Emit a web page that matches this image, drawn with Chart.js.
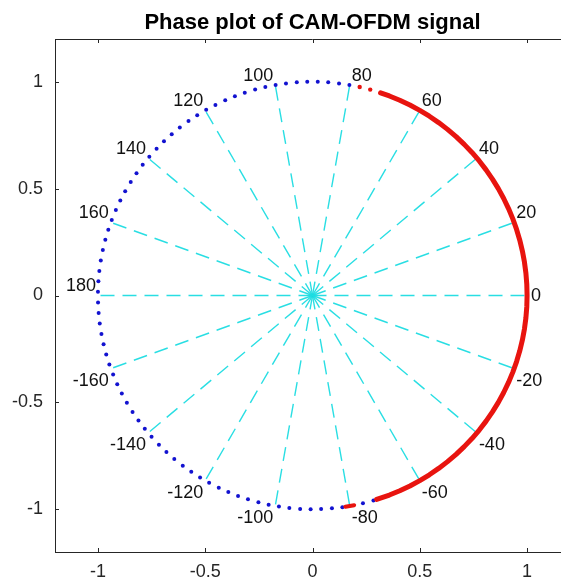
<!DOCTYPE html>
<html>
<head>
<meta charset="utf-8">
<script src="https://cdn.jsdelivr.net/npm/chart.js@4.4.1/dist/chart.umd.min.js"></script>
<style>
  html, body { margin: 0; padding: 0; background: #fff; overflow: hidden; }
  #wrap { width: 600px; height: 586px; }
</style>
</head>
<body>
<div id="wrap"><canvas id="phaseChart" width="600" height="586"></canvas></div>
<script>
// phase samples in degrees
const bluePhase = [80.1, 82.9, 85.8, 88.6, 91.4, 94.2, 97.1, 99.9, 102.7, 105.5,
  108.4, 111.2, 114.0, 116.9, 119.7, 122.5, 125.3, 128.2, 131.0, 133.8,
  136.6, 139.5, 142.3, 145.1, 147.9, 150.8, 153.6, 156.4, 159.3, 162.1,
  164.9, 167.7, 170.6, 173.4, 176.2, 179.0, 181.9, 184.7, 187.5, 190.4,
  193.2, 196.0, 198.8, 201.7, 204.5, 207.3, 210.1, 213.0, 215.8, 218.6,
  221.4, 224.3, 227.1, 229.9, 232.8, 235.6, 238.4, 241.2, 244.1, 246.9,
  249.7, 252.5, 255.4, 258.2, 261.0, 263.8, 266.7, 269.5, 272.3, 275.2,
  278.0, 283.6, 286.5];
const redPhase = [-72.6, -69, -66, -63, -60, -57, -54, -51, -48, -45, -42, -39,
  -36, -33, -30, -27, -24, -21, -18, -15, -12, -9, -6, -3, 0,
  3, 6, 9, 12, 15, 18, 21, 24, 27, 30, 33, 36, 39, 42, 45,
  48, 51, 54, 57, 60, 63, 66, 69, 71.5];
const redDotPhase = [74.4, 77.3];
const redStubPhase = [-81.2, -78.8];
const spokeAngles = [0, 20, 40, 60, 80, 100, 120, 140, 160, 180, 200, 220, 240, 260, 280, 300, 320, 340];
const labelAngles = [0, 20, 40, 60, 80, 100, 120, 140, 160, 180, -20, -40, -60, -80, -100, -120, -140, -160];
const tickValues = [-1, -0.5, 0, 0.5, 1];

const FONT = 'Liberation Sans, Arial, Helvetica, sans-serif';
const rad = d => d * Math.PI / 180;
const onCircle = d => ({ x: Math.cos(rad(d)), y: Math.sin(rad(d)) });

const datasets = [];
spokeAngles.forEach(a => {
  datasets.push({
    data: [{ x: 0, y: 0 }, onCircle(a)],
    showLine: true,
    borderColor: 'rgba(30,220,225,0.95)',
    borderWidth: 1.4,
    borderDash: [14, 8],
    pointRadius: 0,
    order: 4
  });
});
datasets.push({
  data: bluePhase.map(onCircle),
  showLine: false,
  pointRadius: 2,
  pointBorderWidth: 0,
  backgroundColor: '#1212d0',
  order: 3
});
datasets.push({
  data: redPhase.map(onCircle),
  showLine: true,
  borderColor: '#e8140f',
  borderWidth: 5,
  borderCapStyle: 'round',
  borderJoinStyle: 'round',
  pointRadius: 0,
  order: 1
});
datasets.push({
  data: redStubPhase.map(onCircle),
  showLine: true,
  borderColor: '#e8140f',
  borderWidth: 4,
  borderCapStyle: 'round',
  pointRadius: 0,
  order: 1
});
datasets.push({
  data: redDotPhase.map(onCircle),
  showLine: false,
  pointRadius: 2.2,
  pointBorderWidth: 0,
  backgroundColor: '#e8140f',
  order: 1
});

// box top edge, inward ticks and the angle labels
const polarDecor = {
  id: 'polarDecor',
  afterDatasetsDraw(chart) {
    const { ctx, chartArea: ca, scales: { x, y } } = chart;
    ctx.save();
    ctx.strokeStyle = '#262626';
    ctx.lineWidth = 1;
    ctx.beginPath();
    ctx.moveTo(ca.left, ca.top + 0.5);
    ctx.lineTo(ca.right, ca.top + 0.5);
    tickValues.forEach(v => {
      const px = Math.round(x.getPixelForValue(v)) + 0.5;
      ctx.moveTo(px, ca.bottom); ctx.lineTo(px, ca.bottom - 4);
      ctx.moveTo(px, ca.top); ctx.lineTo(px, ca.top + 4);
      const py = Math.round(y.getPixelForValue(v)) + 0.5;
      ctx.moveTo(ca.left, py); ctx.lineTo(ca.left + 4, py);
    });
    ctx.stroke();

    ctx.fillStyle = '#111';
    ctx.font = '18px ' + FONT;
    labelAngles.forEach(a => {
      const c = Math.cos(rad(a)), s = Math.sin(rad(a));
      let px = x.getPixelForValue(c);
      let py = y.getPixelForValue(s);
      if (c >= 0) { ctx.textAlign = 'left'; px += 2; } else { ctx.textAlign = 'right'; px -= 2; }
      if (s === 0) { ctx.textBaseline = 'middle'; px += 2; py += 1; }
      else if (s > 0) { ctx.textBaseline = 'bottom'; }
      else { ctx.textBaseline = 'top'; py += 3; }
      ctx.fillText(String(a), px, py);
    });
    ctx.restore();
  }
};

new Chart(document.getElementById('phaseChart').getContext('2d'), {
  type: 'scatter',
  data: { datasets: datasets },
  options: {
    responsive: false,
    animation: false,
    layout: { padding: { right: 30 } },
    plugins: {
      legend: { display: false },
      tooltip: { enabled: false },
      title: {
        display: true,
        fullSize: false,
        text: 'Phase plot of CAM-OFDM signal',
        color: '#000',
        font: { family: FONT, size: 22, weight: 'bold' },
        padding: { top: 10, bottom: 2.6 }
      }
    },
    scales: {
      x: {
        type: 'linear',
        min: -1.2,
        max: 1.2,
        afterBuildTicks: s => { s.ticks = tickValues.map(v => ({ value: v })); },
        afterFit: s => { s.height = 34; },
        grid: { display: false, drawTicks: false },
        border: { display: true, color: '#262626', width: 1 },
        ticks: { color: '#262626', font: { family: FONT, size: 18 }, padding: 9, maxRotation: 0, callback: v => String(v) }
      },
      y: {
        type: 'linear',
        min: -1.2,
        max: 1.2,
        afterBuildTicks: s => { s.ticks = tickValues.map(v => ({ value: v })); },
        afterFit: s => { s.width = 55; },
        grid: { display: false, drawTicks: false },
        border: { display: true, color: '#262626', width: 1 },
        ticks: { color: '#262626', font: { family: FONT, size: 18 }, padding: 12, callback: v => String(v) }
      }
    }
  },
  plugins: [polarDecor]
});
</script>
</body>
</html>
